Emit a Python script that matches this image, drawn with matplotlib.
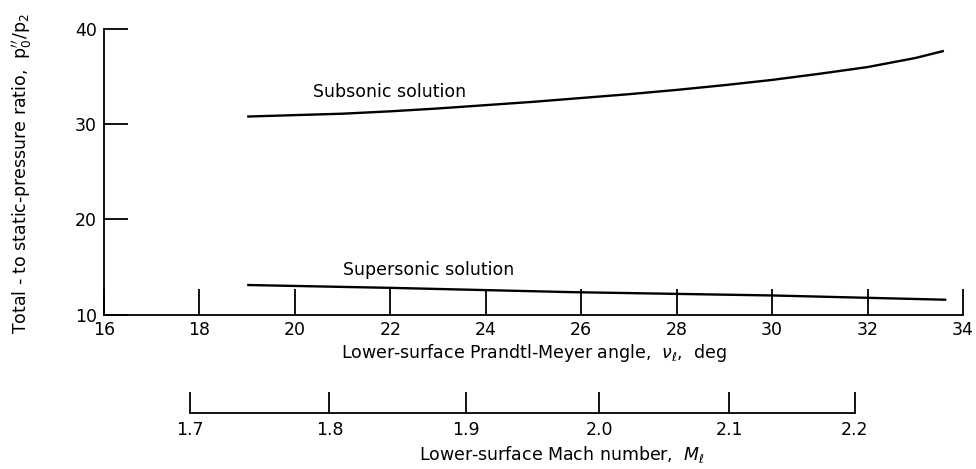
import numpy as np
import matplotlib.pyplot as plt

# curves
angle_sub = [19.0, 20.0, 21.0, 22.0, 23.0, 24.0, 25.0, 26.0, 27.0, 28.0,
             29.0, 30.0, 31.0, 32.0, 33.0, 33.6]
ratio_sub = [30.8, 30.95, 31.1, 31.35, 31.65, 32.0, 32.35, 32.75, 33.15, 33.6,
             34.1, 34.65, 35.3, 36.0, 36.95, 37.7]

angle_sup = [19.0, 22.0, 25.8, 30.0, 33.65]
ratio_sup = [13.1, 12.8, 12.35, 12.0, 11.55]

x_ticks = [16, 18, 20, 22, 24, 26, 28, 30, 32, 34]
y_ticks = [10, 20, 30, 40]
mach_ticks = [1.7, 1.8, 1.9, 2.0, 2.1, 2.2]


def prandtl_meyer(M, g=1.4):
    M = np.asarray(M)
    a = np.sqrt((g + 1) / (g - 1))
    b = np.sqrt(M**2 - 1)
    return np.degrees(a * np.arctan(b / a) - np.arctan(b))


plt.rcParams['font.family'] = ['DejaVu Sans']
plt.rcParams['mathtext.fontset'] = 'dejavusans'
fs = 12.5

W, H = 976, 469
fig = plt.figure(figsize=(W / 100, H / 100), dpi=100)

left, right = 104 / W, 963 / W
ax = fig.add_axes([left, 1 - 314.5 / H, right - left, (314.5 - 29) / H])

ax.plot(angle_sub, ratio_sub, color='black', lw=1.7, solid_capstyle='butt')
ax.plot(angle_sup, ratio_sup, color='black', lw=1.7, solid_capstyle='butt')

ax.text(20.38, 33.4, 'Subsonic solution', fontsize=fs, va='center', ha='left')
ax.text(21.0, 14.7, 'Supersonic solution', fontsize=fs, va='center', ha='left')

ax.set_xlim(16, 34)
ax.set_ylim(10, 40)
ax.set_xticks(x_ticks)
ax.set_yticks(y_ticks)
ax.spines['top'].set_visible(False)
ax.spines['right'].set_visible(False)
for s in ['left', 'bottom']:
    ax.spines[s].set_linewidth(1.3)
ax.tick_params(axis='x', direction='in', length=19, width=1.3, labelsize=fs, pad=5)
ax.tick_params(axis='y', direction='in', length=17, width=1.3, labelsize=fs, pad=5)
ax.set_xlabel(r'Lower-surface Prandtl-Meyer angle,  $\nu_\ell$,  deg', fontsize=fs, labelpad=2)

fig.text(22 / W, 1 - 174 / H,
         r"Total - to static-pressure ratio,  $\mathrm{p}_0^{\prime\prime}/\mathrm{p}_2$",
         rotation=90, ha='center', va='center', fontsize=fs)

# Mach number scale, placed at the matching Prandtl-Meyer angles
ax2 = fig.add_axes([left, 1 - 413 / H, right - left, 0.01])
ax2.set_xlim(16, 34)
ax2.set_ylim(0, 1)
mach_pos = prandtl_meyer(mach_ticks)
ax2.set_xticks(mach_pos)
ax2.set_xticklabels([f'{m:.1f}' for m in mach_ticks])
ax2.set_yticks([])
for s in ['top', 'right', 'left']:
    ax2.spines[s].set_visible(False)
ax2.spines['bottom'].set_bounds(mach_pos[0], mach_pos[-1])
ax2.spines['bottom'].set_linewidth(1.3)
ax2.patch.set_visible(False)
ax2.tick_params(axis='x', direction='in', length=15, width=1.3, labelsize=fs, pad=6)

fig.text(562 / W, 1 - 454 / H, r'Lower-surface Mach number,  $M_\ell$',
         ha='center', va='center', fontsize=fs)

fig.savefig('out.png', dpi=100)
